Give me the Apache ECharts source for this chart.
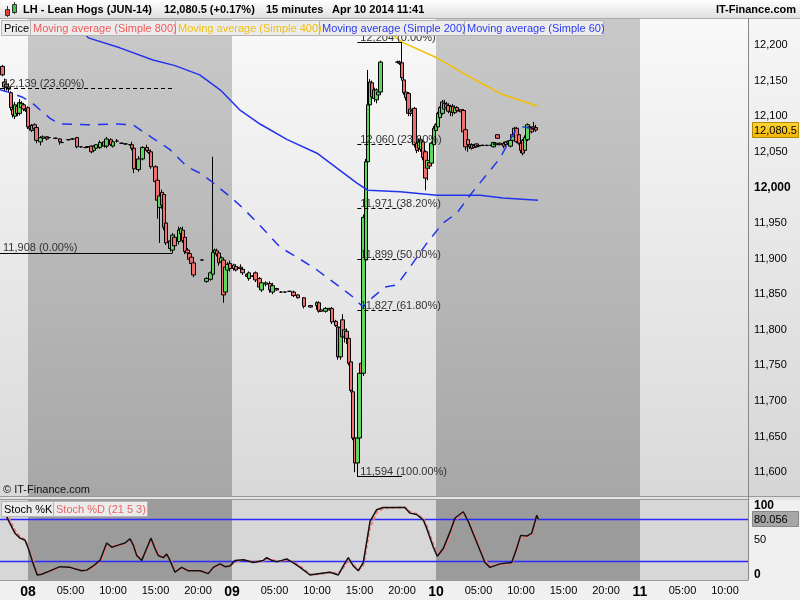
<!DOCTYPE html>
<html><head><meta charset="utf-8">
<script src="https://cdn.jsdelivr.net/npm/echarts@6/dist/echarts.min.js"></script>
<style>html,body{margin:0;padding:0;background:#f0f0f0}#c{width:800px;height:600px}</style>
</head><body><div id="c"></div><script>
// ---- data (time = hours since Apr 08 00:00) ----
const dayNames = ['08', '09', '10', '11'];
const xTickHours = [0, 5, 10, 15, 20, 24, 29, 34, 39, 44, 48, 53, 58, 63, 68, 72, 77, 82];
const yTicks = [11600, 11650, 11700, 11750, 11800, 11850, 11900, 11950, 12000, 12050, 12100, 12150, 12200];
const stochTicks = [0, 50, 100];
const darkDays = [[0, 24], [48, 72]];
const lastPrice = 12080.5;
const lastStoch = 80.056;
const stochLevels = [80, 20];

// [hour, open, close, low, high]
const candles = [
[-3.0,12170,12158,12156,12172],[-2.75,12148,12141,12135,12153],[-2.5,12140,12145,12136,12150],
[-2.25,12141,12138,12133,12146],[-2.0,12133,12112,12108,12135],[-1.75,12110,12102,12098,12115],
[-1.5,12100,12116,12096,12120],[-1.25,12114,12104,12100,12118],[-1.0,12104,12119,12101,12124],
[-0.75,12112,12118,12108,12121],[-0.5,12116,12110,12107,12118],[-0.25,12110,12108,12106,12112],
[0,12112,12085,12082,12114],[0.25,12085,12083,12080,12088],[0.5,12080,12087,12078,12089],
[0.75,12088,12082,12080,12090],[1.0,12084,12066,12062,12086],[1.5,12064,12070,12059,12072],
[1.75,12069,12071,12067,12073],[2.25,12071,12068,12066,12072],[2.5,12070,12070,12069,12071],
[3.25,12069,12069,12068,12070],[3.75,12068,12064,12060,12069],[4.0,12063,12063,12062,12064],
[4.75,12067,12067,12066,12068],[5.25,12068,12068,12067,12069],[5.75,12070,12057,12055,12071],
[6.25,12057,12057,12056,12058],[6.75,12056,12056,12055,12057],[7.0,12057,12057,12056,12058],
[7.5,12058,12050,12048,12059],[7.75,12052,12058,12050,12059],[8.0,12055,12060,12053,12061],
[8.5,12056,12063,12054,12066],[9.0,12064,12058,12056,12066],[9.25,12058,12068,12055,12071],
[9.75,12067,12060,12058,12069],[10.0,12058,12064,12056,12066],[10.5,12065,12065,12063,12068],
[11.0,12062,12062,12061,12063],[11.5,12061,12061,12060,12062],[12.0,12060,12060,12059,12061],
[12.25,12060,12055,12052,12064],[12.5,12055,12026,12020,12057],[13.0,12025,12040,12022,12044],
[13.5,12040,12056,12038,12058],[14.0,12056,12052,12050,12060],[14.25,12052,12049,12047,12054],
[14.5,12050,12029,12026,12053],[15.0,12029,12008,12004,12031],[15.25,12010,11982,11956,12012],
[15.5,11972,11988,11922,11994],[15.75,11993,11975,11970,11997],[16.0,11990,11944,11940,11993],
[16.25,11950,11922,11919,11952],[16.75,11925,11914,11910,11928],[17.0,11912,11933,11908,11936],
[17.25,11930,11918,11912,11934],[17.75,11924,11940,11920,11945],[18.0,11935,11942,11933,11944],
[18.25,11940,11925,11922,11945],[18.5,11930,11910,11906,11934],[18.75,11912,11908,11905,11915],
[19.0,11907,11899,11896,11909],[19.25,11902,11893,11890,11905],[19.5,11894,11877,11874,11896],
[20.5,11898,11898,11897,11899],[21.0,11868,11872,11866,11874],[21.5,11871,11880,11869,11882],
[21.75,11878,11909,11875,12043],[22.0,11908,11912,11905,11914],[22.25,11911,11906,11903,11914],
[22.5,11908,11894,11890,11910],[22.75,11895,11901,11891,11903],[23.0,11898,11849,11838,11900],
[23.25,11853,11888,11850,11892],[23.5,11884,11892,11880,11895],[23.75,11893,11886,11882,11897],
[24.25,11886,11891,11883,11893],[24.5,11889,11884,11882,11892],[25.0,11888,11886,11884,11892],
[25.25,11885,11880,11877,11888],[25.75,11878,11875,11874,11879],[26.0,11872,11880,11869,11882],
[26.5,11876,11875,11874,11877],[26.75,11880,11870,11867,11882],[27.25,11872,11860,11856,11874],
[27.5,11856,11866,11853,11870],[28.0,11864,11866,11861,11868],[28.5,11865,11856,11852,11868],
[28.75,11853,11862,11850,11866],[29.25,11858,11856,11855,11859],[29.75,11853,11853,11852,11854],
[30.25,11853,11853,11852,11854],[30.75,11854,11854,11853,11855],[31.25,11853,11848,11846,11855],
[31.75,11849,11845,11844,11850],[32.5,11845,11833,11830,11846],[33.25,11834,11832,11831,11835],
[34.0,11834,11838,11828,11840],[34.25,11838,11826,11824,11840],[34.5,11828,11826,11825,11829],
[35.0,11826,11830,11824,11832],[35.5,11830,11828,11827,11831],[35.75,11830,11811,11808,11832],
[36.25,11812,11806,11804,11814],[36.5,11804,11762,11758,11806],[36.75,11762,11803,11758,11808],
[37.0,11814,11790,11786,11822],[37.25,11790,11800,11782,11806],[37.5,11798,11788,11780,11802],
[37.75,11788,11753,11750,11792],[38.0,11755,11715,11712,11758],[38.25,11713,11648,11645,11716],
[38.5,11648,11613,11600,11650],[38.75,11613,11648,11594,11652],[39.0,11648,11739,11640,11748],
[39.25,11753,11739,11735,11756],[39.5,11739,11958,11735,11962],[39.75,11898,12036,11890,12040],
[40.0,12036,12116,12030,12165],[40.25,12116,12148,12110,12152],[40.5,12147,12127,12120,12150],
[40.75,12125,12137,12120,12140],[41.0,12123,12137,12118,12139],[41.25,12130,12134,12126,12140],
[41.5,12134,12176,12132,12178],
[43.5,12176,12176,12174,12178],[43.75,12176,12174,12172,12178],[44.0,12175,12154,12150,12204],
[44.25,12151,12133,12130,12155],[44.5,12134,12126,12122,12138],[44.75,12132,12104,12100,12134],
[45.0,12110,12104,12100,12112],[45.25,12108,12106,12104,12110],[45.5,12111,12060,12056,12113],
[45.75,12062,12052,12048,12067],[46.0,12055,12064,12050,12068],[46.25,12053,12067,12050,12072],
[46.5,12064,12042,12038,12066],[46.75,12050,12013,11996,12052],[47.0,12027,12038,12010,12040],
[47.25,12035,12030,12026,12038],[47.5,12034,12062,12030,12064],[47.75,12060,12083,12058,12086],
[48.0,12080,12088,12078,12090],[48.25,12085,12104,12083,12106],[48.5,12098,12112,12095,12114],
[48.75,12104,12120,12102,12123],[49.0,12110,12118,12106,12123],[49.25,12117,12112,12108,12120],
[49.5,12115,12107,12104,12118],[49.75,12106,12114,12100,12116],[50.0,12114,12105,12100,12117],
[50.25,12105,12112,12103,12115],[50.5,12112,12108,12106,12114],[50.75,12108,12107,12106,12109],
[51.0,12109,12106,12105,12110],[51.25,12108,12078,12076,12110],[51.5,12081,12057,12052,12083],
[51.75,12067,12060,12050,12070],[52.0,12060,12057,12054,12062],[52.25,12060,12055,12053,12062],
[52.5,12059,12056,12055,12060],[52.75,12061,12057,12056,12062],[53.0,12059,12058,12057,12060],
[53.5,12059,12059,12058,12060],[54.0,12059,12059,12058,12060],[54.5,12059,12059,12058,12060],
[54.75,12057,12063,12056,12064],[55.0,12060,12062,12059,12063],[55.25,12074,12069,12068,12075],
[55.5,12062,12060,12059,12063],[56.0,12062,12058,12055,12064],[56.25,12060,12064,12059,12065],
[56.5,12062,12064,12061,12066],[56.75,12058,12066,12056,12068],[57.0,12066,12074,12064,12076],
[57.25,12072,12083,12070,12085],[57.5,12083,12064,12062,12085],[57.75,12074,12062,12060,12076],
[58.0,12062,12052,12048,12064],[58.25,12066,12048,12045,12068],[58.5,12052,12070,12050,12073],
[58.75,12067,12088,12065,12090],[59.0,12085,12084,12082,12088],[59.25,12082,12078,12076,12084],
[59.5,12085,12083,12080,12092],[59.75,12084,12080.5,12078,12088]
];

const ma400 = [[42.6,12217],[44.0,12204],[48.1,12182],[52.6,12151],[53.2,12147],[55.9,12130],[60.0,12114]];
const ma200 = [[6.9,12213],[7.1,12210],[10.8,12196],[14.7,12179],[17.3,12171],[20.2,12158],[22.6,12137],
  [24.9,12109],[27.3,12089],[30.5,12067],[34.0,12048],[36.7,12024],[38.7,12006],[40.0,11996],[43.8,11994],
  [48.1,11989],[50.0,11989],[53.2,11989],[55.9,11985],[60.0,11982]];
const ma60 = [[-3.29,12137],[-2.12,12133],[-0.71,12127],[0.47,12119],[1.41,12109],[2.59,12097],[3.76,12089],
  [6.94,12088],[10.47,12089],[12.35,12088],[13.18,12081],[14.71,12069],[16.71,12053],[18.71,12029],
  [20.24,12020],[21.41,12010],[23.76,11987],[25.29,11971],[28.12,11936],[29.65,11916],[31.65,11902],
  [34.0,11884],[36.71,11860],[38.24,11846],[39.41,11832],[40.59,11846],[42.0,11860],[43.41,11863],
  [44.94,11888],[46.94,11922],[48.82,11950],[50.47,11964],[52.0,11989],[53.76,12015],[55.53,12041],
  [56.47,12062],[57.53,12083],[58.24,12085],[59.06,12083]];

const stochK = [[-3.0,95],[-2.71,89],[-2.32,79],[-1.53,60],[-0.94,53],[-0.35,50],[0.04,38],[0.62,16],[1.09,0],
  [1.61,1],[2.59,6],[3.76,12],[4.94,11],[6.32,6],[6.91,7],[7.68,13],[8.47,21],[9.26,46],[9.85,40],
  [10.62,43],[11.41,46],[12.0,52],[12.39,43],[12.79,28],[13.38,21],[13.96,38],[14.47,53],[14.94,38],
  [15.33,28],[15.92,25],[16.32,30],[16.71,21],[17.29,4],[18.08,11],[18.86,6],[20.24,6],[21.21,2],
  [21.8,11],[22.59,16],[23.18,12],[23.76,13],[24.35,21],[25.33,22],[26.51,18],[27.68,21],[28.08,25],
  [28.67,21],[29.26,19],[29.85,21],[30.43,23],[31.02,19],[31.41,16],[32.0,11],[33.18,0],[34.35,2],
  [35.53,4],[36.51,0],[37.09,13],[37.68,25],[38.27,13],[38.86,6],[39.45,18],[40.24,77],[41.02,94],
  [41.8,97],[43.76,97],[44.35,97],[44.94,89],[45.73,87],[46.51,79],[46.91,67],[47.68,40],[48.15,27],
  [48.86,38],[49.65,62],[50.24,82],[51.21,91],[51.8,77],[52.79,47],[53.76,18],[54.35,11],[55.53,16],
  [56.91,18],[57.49,38],[57.96,57],[58.67,56],[59.26,60],[59.65,77],[59.85,86],[60.04,80.056]];
const stochD = [[-3.0,97],[-2.71,92],[-2.32,84],[-1.53,64],[-0.94,55],[-0.35,51],[0.04,42],[0.62,22],[1.09,4],
  [1.61,2],[2.59,5],[3.76,11],[4.94,11],[6.32,7],[6.91,7],[7.68,11],[8.47,18],[9.26,40],[9.85,42],
  [10.62,42],[11.41,45],[12.0,50],[12.39,46],[12.79,32],[13.38,23],[13.96,34],[14.47,50],[14.94,42],
  [15.33,31],[15.92,26],[16.32,29],[16.71,24],[17.29,7],[18.08,9],[18.86,7],[20.24,6],[21.21,3],
  [21.8,9],[22.59,14],[23.18,13],[23.76,13],[24.35,19],[25.33,22],[26.51,19],[27.68,20],[28.08,23],
  [28.67,22],[29.26,20],[29.85,20],[30.43,22],[31.02,20],[31.41,17],[32.0,13],[33.18,1],[34.35,1],
  [35.53,4],[36.51,2],[37.09,10],[37.68,22],[38.27,15],[38.86,8],[39.45,14],[40.24,68],[41.02,90],
  [41.8,96],[43.76,97],[44.35,97],[44.94,91],[45.73,88],[46.51,81],[46.91,71],[47.68,45],[48.15,31],
  [48.86,35],[49.65,57],[50.24,78],[51.21,89],[51.8,80],[52.79,52],[53.76,22],[54.35,13],[55.53,15],
  [56.91,17],[57.49,33],[57.96,52],[58.67,55],[59.26,58],[59.65,72],[59.85,80],[60.04,81]];

// Fibonacci retracements: [from hour, to hour], levels and percentages
const fib1Span = [-3.29, 17.0];
const fib1Levels = [12139, 11908];
const fib1Pcts = ['23.60%', '0.00%'];
const fib2Span = [38.75, 44.0];
const fib2Levels = [12204, 12060, 11971, 11899, 11827, 11594];
const fib2Pcts = ['0.00%', '23.60%', '38.20%', '50.00%', '61.80%', '100.00%'];

// ---- chart ----
const FONT = '"Liberation Sans", Arial, sans-serif';
const xMin = -3.294, xMax = 84.706;
const fmt = v => String(v).replace(/\B(?=(\d{3})+(?!\d))/g, ',');
const LG = echarts.graphic.LinearGradient;
const vgrad = (a, b) => new LG(0, 0, 0, 1, [{offset: 0, color: a}, {offset: 1, color: b}]);

function fibLines(span, levels, pcts) {
  return levels.map((v, i) => {
    const solid = pcts[i] === '0.00%' || pcts[i] === '100.00%';
    return [{coord: [span[0], v], name: fmt(v) + ' (' + pcts[i] + ')',
             lineStyle: {color: '#000', width: 1, type: solid ? 'solid' : [4, 3]}},
            {coord: [span[1], v]}];
  });
}

const chart = echarts.init(document.getElementById('c'), null, {renderer: 'canvas'});

const option = {
  animation: false,
  backgroundColor: '#f0f0f0',
  textStyle: {fontFamily: FONT},
  grid: [
    {left: 0, right: 52, top: 18, height: 478, show: true, borderWidth: 0, backgroundColor: vgrad('#f9f9f9', '#d9d9d9')},
    {left: 0, right: 52, top: 500, height: 80, show: true, borderWidth: 0, backgroundColor: '#d7d7d7'}
  ],
  xAxis: [
    {gridIndex: 0, type: 'value', min: xMin, max: xMax, axisLabel: {show: false}, axisLine: {show: false, onZero: false}, axisTick: {show: false}, splitLine: {show: false}},
    {gridIndex: 1, type: 'value', min: xMin, max: xMax, splitLine: {show: false},
      axisLine: {show: true, onZero: false, lineStyle: {color: '#999'}}, axisTick: {show: false},
      axisLabel: {customValues: xTickHours, margin: 5, fontFamily: FONT,
        formatter: v => {
          if (v % 24 === 0) return '{d|' + dayNames[v / 24] + '}';
          const hh = v % 24;
          return '{t|' + (hh < 10 ? '0' : '') + hh + ':00}';
        },
        rich: {d: {fontWeight: 'bold', fontSize: 14, color: '#000', fontFamily: FONT}, t: {fontSize: 11, color: '#000', fontFamily: FONT}}}}
  ],
  yAxis: [
    {gridIndex: 0, type: 'value', position: 'right', min: 11566.6, max: 12237.9, splitLine: {show: false},
      axisLine: {show: true, lineStyle: {color: '#888'}},
      axisTick: {show: true, customValues: yTicks, length: 4, lineStyle: {color: '#666'}},
      axisLabel: {customValues: yTicks, margin: 6, fontFamily: FONT,
        formatter: v => v === 12000 ? '{b|' + fmt(v) + '}' : '{n|' + fmt(v) + '}',
        rich: {b: {fontWeight: 'bold', fontSize: 12, color: '#000', fontFamily: FONT}, n: {fontSize: 11, color: '#000', fontFamily: FONT}}}},
    {gridIndex: 1, type: 'value', position: 'right', min: -7.2, max: 107.9, splitLine: {show: false},
      axisLine: {show: true, lineStyle: {color: '#888'}},
      axisTick: {show: true, customValues: stochTicks, length: 4, lineStyle: {color: '#666'}},
      axisLabel: {customValues: stochTicks, margin: 6, fontFamily: FONT,
        formatter: v => v === 50 ? '{n|' + v + '}' : '{b|' + v + '}',
        rich: {b: {fontWeight: 'bold', fontSize: 12, color: '#000', fontFamily: FONT}, n: {fontSize: 11, color: '#000', fontFamily: FONT}}}}
  ],
  series: [
    {type: 'line', xAxisIndex: 0, yAxisIndex: 0, z: 1, silent: true, symbol: 'none', lineStyle: {opacity: 0},
      data: [[xMin, 12000]],
      markArea: {silent: true, itemStyle: {color: vgrad('#c9c9c9', '#a7a7a7')},
        data: darkDays.map(d => [{xAxis: d[0]}, {xAxis: d[1]}])}},
    {type: 'line', xAxisIndex: 1, yAxisIndex: 1, z: 1, silent: true, symbol: 'none', lineStyle: {opacity: 0},
      data: [[xMin, 50]],
      markArea: {silent: true, itemStyle: {color: '#9b9b9b'},
        data: darkDays.map(d => [{xAxis: d[0]}, {xAxis: d[1]}])}},
    {type: 'candlestick', name: 'Price', xAxisIndex: 0, yAxisIndex: 0, z: 3,
      data: candles, encode: {x: 0, y: [1, 2, 3, 4]}, barWidth: 4,
      itemStyle: {color: '#5cd85c', color0: '#f07070', borderColor: '#000', borderColor0: '#000', borderWidth: 1},
      markLine: {silent: true, symbol: 'none',
        label: {show: true, position: 'insideStartTop', formatter: '{b}', color: '#333', fontSize: 11, fontFamily: FONT, distance: [3, -1]},
        data: fibLines(fib1Span, fib1Levels, fib1Pcts).concat(fibLines(fib2Span, fib2Levels, fib2Pcts))}},
    {type: 'line', name: 'MA400', xAxisIndex: 0, yAxisIndex: 0, z: 4, symbol: 'none', data: ma400,
      lineStyle: {color: '#f2c000', width: 1.5}},
    {type: 'line', name: 'MA200', xAxisIndex: 0, yAxisIndex: 0, z: 4, symbol: 'none', data: ma200,
      lineStyle: {color: '#2233ee', width: 1.5}},
    {type: 'line', name: 'MA60', xAxisIndex: 0, yAxisIndex: 0, z: 4, symbol: 'none', data: ma60,
      lineStyle: {color: '#2233ee', width: 1.5, type: [10, 8]}},
    {type: 'line', name: 'Stoch %D', xAxisIndex: 1, yAxisIndex: 1, z: 4, symbol: 'none', data: stochD,
      lineStyle: {color: '#ec7f7f', width: 2, type: [4, 2]}},
    {type: 'line', name: 'Stoch %K', xAxisIndex: 1, yAxisIndex: 1, z: 5, symbol: 'none', data: stochK,
      lineStyle: {color: '#111', width: 1.5}}
  ],
  graphic: {elements: []}
};

function box(id, x, y, w, h, text, color) {
  return [
    {type: 'rect', id: id + 'r', z: 100, shape: {x: x + 0.5, y: y + 0.5, width: w, height: h}, style: {fill: '#ececec', stroke: '#b4b4b4', lineWidth: 1}},
    {type: 'text', id: id + 't', z: 101, x: x + 3, y: y + h / 2 + 1, style: {text: text, fill: color, font: '11px ' + FONT, verticalAlign: 'middle'}}
  ];
}
function ttl(id, x, text, align) {
  return {type: 'text', id: id, z: 101, x: x, y: 10, style: {text: text, fill: '#000', font: 'bold 11px ' + FONT, verticalAlign: 'middle', align: align || 'left'}};
}

const g = [
  {type: 'rect', id: 'rightbg', z: -1, shape: {x: 748, y: 18, width: 52, height: 478}, style: {fill: vgrad('#f6f6f6', '#d6d6d6')}},
  {type: 'rect', id: 'titlebg', z: 100, shape: {x: 0, y: 0, width: 800, height: 18}, style: {fill: vgrad('#ffffff', '#e0e0e0')}},
  {type: 'line', id: 'titleline', z: 100, shape: {x1: 0, y1: 18.5, x2: 800, y2: 18.5}, style: {stroke: '#aaa', lineWidth: 1}},
  {type: 'rect', id: 'sep', z: 100, shape: {x: 0, y: 496, width: 800, height: 4}, style: {fill: '#e4e4e4'}},
  {type: 'line', id: 'sep1', z: 100, shape: {x1: 0, y1: 496.5, x2: 800, y2: 496.5}, style: {stroke: '#999', lineWidth: 1}},
  {type: 'line', id: 'sep2', z: 100, shape: {x1: 0, y1: 499.5, x2: 748, y2: 499.5}, style: {stroke: '#999', lineWidth: 1}},
  {type: 'line', id: 'vline', z: 100, shape: {x1: 748.5, y1: 18, x2: 748.5, y2: 580}, style: {stroke: '#888', lineWidth: 1}},
  {type: 'line', id: 'ic1', z: 101, shape: {x1: 7.5, y1: 6, x2: 7.5, y2: 17}, style: {stroke: '#333', lineWidth: 1}},
  {type: 'rect', id: 'ic2', z: 102, shape: {x: 5.5, y: 9.5, width: 4, height: 6}, style: {fill: '#e04040', stroke: '#333', lineWidth: 1}},
  {type: 'line', id: 'ic3', z: 101, shape: {x1: 14.5, y1: 2, x2: 14.5, y2: 14}, style: {stroke: '#333', lineWidth: 1}},
  {type: 'rect', id: 'ic4', z: 102, shape: {x: 12.5, y: 4.5, width: 4, height: 8}, style: {fill: '#40c040', stroke: '#333', lineWidth: 1}},
  ttl('t1', 23, 'LH - Lean Hogs (JUN-14)'),
  ttl('t2', 164, '12,080.5 (+0.17%)'),
  ttl('t3', 266, '15 minutes'),
  ttl('t4', 332, 'Apr 10 2014 11:41'),
  ttl('t5', 796, 'IT-Finance.com', 'right'),
  {type: 'text', id: 'copy', z: 101, x: 3, y: 490, style: {text: '\u00a9 IT-Finance.com', fill: '#111', font: '11px ' + FONT, verticalAlign: 'middle'}}
].concat(
  box('l0', 1, 20, 29, 15, 'Price', '#000'),
  box('l1', 30, 20, 145, 15, 'Moving average (Simple 800)', '#f05a5a'),
  box('l2', 175, 20, 144, 15, 'Moving average (Simple 400)', '#f0c010'),
  box('l3', 319, 20, 145, 15, 'Moving average (Simple 200)', '#2b3cf0'),
  box('l4', 464, 20, 139, 15, 'Moving average (Simple 60)', '#2b3cf0'),
  box('s0', 1, 501, 52, 15, 'Stoch %K', '#000'),
  box('s1', 53, 501, 94, 15, 'Stoch %D (21 5 3)', '#e86464')
);
option.graphic.elements = g;
chart.setOption(option);

// level lines and value boxes placed through the axes' scales
const py = Math.round(chart.convertToPixel({yAxisIndex: 0}, lastPrice));
const sy = Math.round(chart.convertToPixel({yAxisIndex: 1}, lastStoch));
const x0 = chart.convertToPixel({xAxisIndex: 1}, xMin), x1 = chart.convertToPixel({xAxisIndex: 1}, xMax);
const extra = stochLevels.map((v, i) => {
  const ly = Math.round(chart.convertToPixel({yAxisIndex: 1}, v)) + 0.5;
  return {type: 'line', id: 'lvl' + i, z: 3, shape: {x1: x0, y1: ly, x2: x1, y2: ly}, style: {stroke: '#2a2aff', lineWidth: 1.3}};
});
chart.setOption({graphic: {elements: extra.concat([
  {type: 'rect', id: 'pbr', z: 110, shape: {x: 752.5, y: py - 7.5, width: 46, height: 15}, style: {fill: vgrad('#ffd633', '#f5b400'), stroke: '#b08a00', lineWidth: 1}},
  {type: 'text', id: 'pbt', z: 111, x: 754, y: py + 1, style: {text: fmt(lastPrice), fill: '#000', font: '11px ' + FONT, verticalAlign: 'middle'}},
  {type: 'rect', id: 'sbr', z: 110, shape: {x: 752.5, y: sy - 7.5, width: 46, height: 15}, style: {fill: '#a6a6a6', stroke: '#888', lineWidth: 1}},
  {type: 'text', id: 'sbt', z: 111, x: 754, y: sy + 1, style: {text: String(lastStoch), fill: '#000', font: '11px ' + FONT, verticalAlign: 'middle'}}
])}});
</script></body></html>
